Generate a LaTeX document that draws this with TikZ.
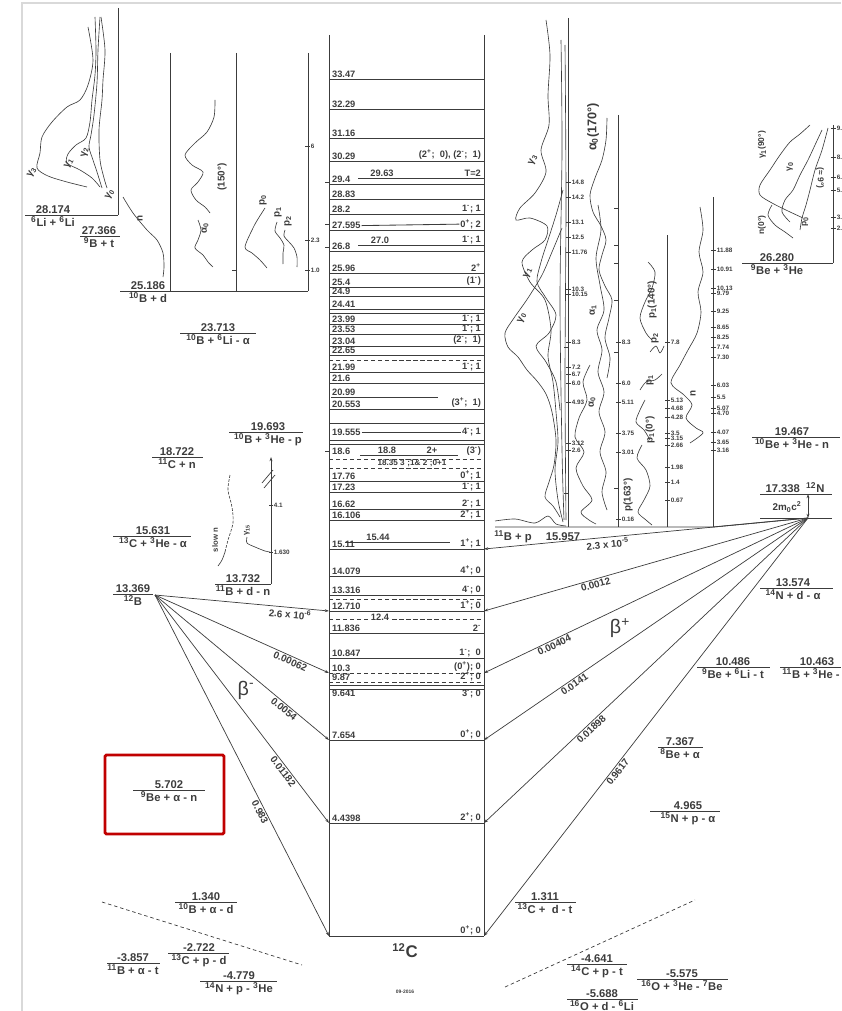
\documentclass[tikz,border=0pt]{standalone}
\usepackage{fontspec}
\setmainfont{Liberation Sans}
\usetikzlibrary{arrows.meta, positioning, calc}
\definecolor{inkgray}{HTML}{3C3C3C}
\definecolor{framegray}{HTML}{D9D9D9}
\definecolor{boxred}{HTML}{C00000}
\newcommand{\iso}[2]{\textsuperscript{#1}#2}

\begin{document}
\begin{tikzpicture}[x=0.025cm, y=-0.025cm,
  lvl/.style={line width=0.6pt, draw=inkgray},
  dlvl/.style={lvl, dash pattern=on 3pt off 2pt},
  lvtxt/.style={font=\fontsize{6.6}{7}\selectfont\bfseries, text=inkgray, inner sep=0.6pt},
  en/.style={font=\fontsize{8}{9}\selectfont\bfseries, text=inkgray, inner sep=0.8pt},
  frm/.style={line width=0.5pt, draw=inkgray},
  spec/.style={line width=0.45pt, draw=inkgray},
  tk/.style={font=\fontsize{4.5}{5}\selectfont\bfseries, text=inkgray, inner sep=0.4pt, anchor=west},
  sg/.style={font=\fontsize{7}{8}\selectfont\bfseries, text=inkgray, rotate=90, inner sep=0.5pt},
  br/.style={line width=0.5pt, draw=inkgray, -{Stealth[length=3pt, width=2pt]}},
  brl/.style={font=\fontsize{7}{8}\selectfont\bfseries, text=inkgray, sloped, below, inner sep=1pt},
  bsym/.style={font=\fontsize{14}{16}\selectfont, text=inkgray},
]
\useasboundingbox (0,0) rectangle (841,1011);
\draw[framegray, line width=1.5pt] (22,1011) -- (22,3) -- (841,3);

% 12C level column
\draw[lvl] (329,35) -- (329,936);
\draw[lvl] (484,35) -- (484,936);
\foreach \y/\a/\b [count=\k] in {
  79/33.47/{}, 109/32.29/{}, 138/31.16/{},
  161/30.29/{(2\textsuperscript{+};~~0), (2\textsuperscript{-};~~1)},
  184/29.4/{}, 199/28.83/{}, 214/28.2/{1\textsuperscript{-};~1},
  273/25.96/{2\textsuperscript{+}}, 287/25.4/{(1\textsuperscript{-})},
  296/24.9/{}, 309/24.41/{}, 324/23.99/{1\textsuperscript{-};~1},
  334/23.53/{1\textsuperscript{-};~1}, 346/23.04/{(2\textsuperscript{-};~~1)},
  355/22.65/{}, 372/21.99/{1\textsuperscript{-};~1}, 383/21.6/{},
  409/20.553/{(3\textsuperscript{+};~~1)},
  481/17.76/{0\textsuperscript{+};~1}, 492/17.23/{1\textsuperscript{-};~1},
  509/16.62/{2\textsuperscript{-};~1}, 520/16.106/{2\textsuperscript{+};~1},
  549/15.11/{1\textsuperscript{+};~1}, 576/14.079/{4\textsuperscript{+};~0},
  595/13.316/{4\textsuperscript{-};~0}, 611/12.710/{1\textsuperscript{+};~0},
  633/11.836/{2\textsuperscript{-}}, 658/10.847/{1\textsuperscript{-};~~0},
  740/7.654/{0\textsuperscript{+};~0}, 823/4.4398/{2\textsuperscript{+};~0},
  936/{}/{0\textsuperscript{+};~0}} {
  \draw[lvl] (329,\y) -- (484,\y);
  \node[lvtxt, above right] (la\k) at (331,\y) {\a};
  \node[lvtxt, above left] (lb\k) at (482,\y) {\b};
}
\foreach \y in {313, 423, 440, 444, 685}
  \draw[lvl] (329,\y) -- (484,\y);
\foreach \y in {360, 459, 468, 599}
  \draw[dlvl] (329,\y) -- (484,\y);

% split and crossed levels
\draw[lvl] (358,178) -- (484,178);
\node[lvtxt, above] (l2963) at (382,178) {29.63};
\node[lvtxt, above left] (j2963) at (482,178) {T=2};
\draw[lvl] (329,230) -- (484,230);
\node[lvtxt, above right] (l27595) at (331,230) {27.595};
\node[lvtxt, above left] (j27595) at (482,230) {0\textsuperscript{+};~2};
\draw[lvl] (l27595.east) -- (j27595.west);
\draw[lvl] (329,251) -- (484,251);
\node[lvtxt, above right] (l268) at (331,251) {26.8};
\draw[lvl] (358,245) -- (484,245);
\node[lvtxt, above] (l270) at (380,245) {27.0};
\node[lvtxt, above left] (j270) at (482,245) {1\textsuperscript{-};~1};
\draw[lvl] (331,397) -- (438,397);
\node[lvtxt, above right] (l2099) at (331,397) {20.99};
\node[lvtxt, anchor=west] (l19555) at (331,432) {19.555};
\node[lvtxt, anchor=east] (j19555) at (482,432) {4\textsuperscript{-};~1};
\draw[lvl] (l19555) -- (j19555);
\node[lvtxt, anchor=west] (l186) at (331,451) {18.6};
\draw[lvl] (360,455) -- (458,455);
\node[lvtxt, above] (l188) at (387,455) {18.8};
\node[lvtxt, above] (j188) at (432,455) {2+};
\node[lvtxt, anchor=east] (j186) at (482,451) {(3\textsuperscript{-})};
\node[lvtxt, font=\fontsize{5.8}{6}\selectfont\bfseries] (l1835) at (412,463)
  {18.35 3\textsuperscript{-};1\& 2\textsuperscript{-};0+1};
\draw[lvl] (345,542) -- (450,542);
\node[lvtxt, above] (l1544) at (378,542) {15.44};
\draw[dlvl] (329,619) -- (484,619);
\node[lvtxt, fill=white] (l124) at (380,617) {12.4};
\draw[dlvl] (329,673) -- (484,673);
\node[lvtxt, above right] (l103) at (331,673) {10.3};
\node[lvtxt, above left] (j103) at (482,673) {(0\textsuperscript{+}); 0};
\draw[dlvl] (329,682) -- (484,682);
\node[lvtxt, above right] (l987) at (331,682) {9.87};
\node[lvtxt, above left] (j987) at (482,682) {2\textsuperscript{+};~0};
\draw[lvl] (329,689) -- (484,689);
\node[lvtxt, below right] (l9641) at (331,689) {9.641};
\node[lvtxt, below left] (j9641) at (482,689) {3\textsuperscript{-};~0};
\foreach \y in {182, 224, 247, 451}
  \draw[lvl] (325,\y) -- (329,\y);
\node[font=\fontsize{12}{14}\selectfont\bfseries, text=inkgray] (c12) at (405,951) {\iso{12}{C}};
\node[font=\fontsize{3.5}{4}\selectfont\bfseries, text=inkgray] (date) at (405,992) {09-2016};

% thresholds
\foreach \xa/\xb/\y/\xt/\e/\r [count=\k] in {
  25/118/215/53/28.174/{\iso{6}{Li} + \iso{6}{Li}},
  80/120/236/99/27.366/{\iso{9}{B} + t},
  120/308/291/148/25.186/{\iso{10}{B} + d},
  180/256/333/218/23.713/{\iso{10}{B} + \iso{6}{Li} - α},
  229/303/432/268/19.693/{\iso{10}{B} + \iso{3}{He} - p},
  152/203/457/177/18.722/{\iso{11}{C} + n},
  113/191/536/153/15.631/{\iso{13}{C} + \iso{3}{He} - α},
  215/271/584/243/13.732/{\iso{11}{B} + d - n},
  113/153/594/133/13.369/{\iso{12}{B}},
  133/205/790/169/5.702/{\iso{9}{Be} + α - n},
  175/237/902/206/1.340/{\iso{10}{B} + α - d},
  107/160/963/133/-3.857/{\iso{11}{B} + α - t},
  168/229/953/199/-2.722/{\iso{13}{C} + p - d},
  200/277/981/239/-4.779/{\iso{14}{N} + p - \iso{3}{He}},
  515/576/902/545/1.311/{\iso{13}{C} +~ d - t},
  567/627/964/597/-4.641/{\iso{14}{C} + p - t},
  637/728/979/682/-5.575/{\iso{16}{O} + \iso{3}{He} - \iso{7}{Be}},
  567/638/999/602/-5.688/{\iso{16}{O} + d - \iso{6}{Li}},
  760/833/588/793/13.574/{\iso{14}{N} + d - α},
  697/770/667/733/10.486/{\iso{9}{Be} + \iso{6}{Li} - t},
  658/703/747/680/7.367/{\iso{8}{Be} + α},
  650/720/811/688/4.965/{\iso{15}{N} + p - α},
  742/833/263/777/26.280/{\iso{9}{Be} + \iso{3}{He}},
  752/840/437/792/19.467/{\iso{10}{Be} + \iso{3}{He} - n}} {
  \draw[lvl] (\xa,\y) -- (\xb,\y);
  \node[en, above] (e\k) at (\xt,\y) {\e};
  \node[en, below] (r\k) at (\xt,\y) {\r};
}
\draw[lvl] (780,667) -- (841,667);
\node[en, above] (e10463) at (817,667) {10.463};
\node[en, below right] (r10463) at (781,667) {\iso{11}{B} + \iso{3}{He} -};
\draw[dash pattern=on 2.5pt off 2pt, line width=0.5pt, draw=inkgray] (102,902) -- (302,965);
\draw[dash pattern=on 2.5pt off 2pt, line width=0.5pt, draw=inkgray] (505,987) -- (695,900);
\draw[boxred, line width=2pt, rounded corners=1pt] (105,755) rectangle (224,834);

% 12N and beta branches
\coordinate (N12) at (808,518);
\coordinate (B12) at (155,595);
\draw[lvl] (760,494) -- (832,494);
\draw[lvl] (760,518) -- (832,518);
\node[en, above] (e12N) at (795,494) {17.338~~\iso{12}{N}};
\node[en, font=\fontsize{7}{8}\selectfont\bfseries] (pair) at (787,507) {2m\textsubscript{0}c\textsuperscript{2}};
\draw[lvl, {Stealth[length=3pt, width=2pt]}-{Stealth[length=3pt, width=2pt]}] (808,494) -- (N12);
\foreach \n/\y in {r15/549, r12/611, r10/673, r7/740, r4/823, r0/936}
  \coordinate (\n) at (484,\y);
\foreach \n/\y in {l12/611, l10/673, l7/740, l4/823, l0/936}
  \coordinate (\n) at (329,\y);
\draw[br] (N12) -- node[brl, pos=0.62] (bp1) {2.3 x 10\textsuperscript{-5}} (r15);
\draw[br] (N12) -- node[brl, pos=0.66] (bp2) {0.0012} (r12);
\draw[br] (N12) -- node[brl, pos=0.79] (bp3) {0.00404} (r10);
\draw[br] (N12) -- node[brl, pos=0.73] (bp4) {0.0141} (r7);
\draw[br] (N12) -- node[brl, pos=0.68] (bp5) {0.01898} (r4);
\draw[br] (N12) -- node[brl, pos=0.6] (bp6) {0.9617} (r0);
\draw[br] (B12) -- node[brl, pos=0.78] (bm1) {2.6 x 10\textsuperscript{-6}} (l12);
\draw[br] (B12) -- node[brl, pos=0.79] (bm2) {0.00062} (l10);
\draw[br] (B12) -- node[brl, pos=0.76] (bm3) {0.0054} (l7);
\draw[br] (B12) -- node[brl, pos=0.76] (bm4) {0.01182} (l4);
\draw[br] (B12) -- node[brl, pos=0.63] (bm5) {0.983} (l0);
\node[bsym] (bplus) at (620,628) {β\textsuperscript{+}};
\node[bsym] (bminus) at (246,690) {β\textsuperscript{-}};

% 6Li + 6Li spectra
\draw[frm] (118,8) -- (118,215);
\draw[spec] plot[smooth] coordinates {(88,27) (93,60) (88,85) (80,100) (67,107) (52,122) (42,137) (40,153) (37,168) (48,176) (67,182) (87,187)};
\draw[spec] plot[smooth] coordinates {(95,17) (96,50) (95,75) (92,100) (90,122) (86,138) (76,145) (68,154) (67,163) (80,170) (92,178) (100,187)};
\draw[spec] plot[smooth] coordinates {(100,17) (98,50) (97,83) (94,115) (91,135) (89,147) (93,160) (97,172) (102,188)};
\draw[spec] plot[smooth] coordinates {(101,17) (105,50) (103,80) (102,100) (99,130) (100,160) (104,178) (107,188)};
\node[sg, rotate=-30] (g3a) at (32,172) {γ\textsubscript{3}};
\node[sg, rotate=-30] (g1a) at (69,163) {γ\textsubscript{1}};
\node[sg, rotate=-10] (g2a) at (85,152) {γ\textsubscript{2}};
\node[sg, rotate=-30] (g0a) at (110,194) {γ\textsubscript{0}};

% 10B + d spectra
\foreach \x in {170, 236, 308}
  \draw[frm] (\x,53) -- (\x,291);
\foreach \y/\t [count=\k] in {146/6, 240/2.3, 270/1.0}
  \draw[frm] (305,\y) -- (310,\y) node[tk] (td\k) {\t};
\draw[frm] (232,270) -- (236,270);
\draw[spec] plot[smooth] coordinates {(123,197) (133,213) (147,230) (157,240) (163,253) (164,267) (163,277)};
\draw[spec] plot[smooth] coordinates {(215,100) (214,117) (207,132) (195,143) (185,155) (192,165) (203,172) (198,182) (191,190) (196,200) (205,207) (210,213)};
\draw[spec] plot[smooth] coordinates {(198,220) (201,230) (198,240) (195,248) (203,255) (208,262) (213,267)};
\draw[spec] plot[smooth] coordinates {(265,208) (258,219) (253,228) (245,247) (252,253) (260,260) (267,268)};
\draw[spec] plot[smooth] coordinates {(277,222) (275,231) (280,238) (284,245) (283,253) (283,264)};
\draw[spec] plot[smooth] coordinates {(285,230) (284,236) (289,242) (294,248) (297,257) (297,267)};
\node[sg] (nd) at (140,218) {n};
\node[sg] (a150) at (222,177) {(150°)};
\node[sg] (a0d) at (205,228) {α\textsubscript{0}};
\node[sg] (p0d) at (263,200) {p\textsubscript{0}};
\node[sg] (p1d) at (278,212) {p\textsubscript{1}};
\node[sg] (p2d) at (288,221) {p\textsubscript{2}};

% 11B + d - n spectrum
\draw[frm, -{Stealth[length=3pt, width=2pt]}] (271,584) -- (271,457);
\draw[frm] (262,483) -- (273,470);
\draw[frm] (264,488) -- (275,475);
\foreach \y/\t [count=\k] in {505/4.1, 552/1.630}
  \draw[frm] (269,\y) -- (273,\y) node[tk] (tn\k) {\t};
\draw[spec, dash pattern=on 2pt off 1pt] plot[smooth] coordinates {(230,475) (228,490) (232,507) (233,523) (228,540) (225,552)};
\draw[spec] plot[smooth] coordinates {(225,552) (222,560) (218,566)};
\draw[spec] plot[smooth] coordinates {(247,537) (247,543) (255,547) (265,551) (270,552)};
\node[sg, font=\fontsize{5.5}{6}\selectfont\bfseries] (slown) at (215,540) {slow n};
\node[sg, font=\fontsize{5.5}{6}\selectfont\bfseries] (g15) at (247,530) {γ\textsubscript{15}};

% 11B + p spectra
\draw[lvl] (495,527) -- (713,527) -- (N12);
\node[en] (r11Bp) at (513,537) {\iso{11}{B} + p};
\node[en] (e11Bp) at (563,537) {15.957};
\draw[frm] (568,18) -- (568,527);
\draw[frm] (618,115) -- (618,527);
\draw[frm] (667,235) -- (667,527);
\draw[frm] (713,197) -- (713,527);
\foreach \y/\t [count=\k] in {182/14.8, 197/14.2, 222/13.1, 237/12.5, 252/11.76, 289/10.3, 294/10.15,
  342/8.3, 367/7.2, 374/6.7, 383/6.0, 402/4.93, 443/3.12, 450/2.6}
  \draw[frm] (566,\y) -- (571,\y) node[tk] (ta\k) {\t};
\foreach \y/\t [count=\k] in {342/8.3, 383/6.0, 402/5.11, 433/3.75, 452/3.01, 519/0.16}
  \draw[frm] (616,\y) -- (621,\y) node[tk] (tb\k) {\t};
\foreach \y/\t [count=\k] in {342/7.8, 400/5.13, 408/4.68, 417/4.28, 433/3.5, 438/3.15, 445/2.66,
  467/1.98, 482/1.4, 500/0.67}
  \draw[frm] (665,\y) -- (670,\y) node[tk] (tc\k) {\t};
\foreach \y/\t [count=\k] in {250/11.88, 269/10.91, 288/10.13, 293/9.79, 311/9.25, 327/8.65, 337/8.25,
  347/7.74, 357/7.30, 385/6.03, 397/5.5, 408/5.07, 413/4.70, 432/4.07, 442/3.65, 450/3.16}
  \draw[frm] (711,\y) -- (716,\y) node[tk] (tdd\k) {\t};
\foreach \y in {208, 245, 263, 300, 352, 488}
  \draw[frm] (614,\y) -- (618,\y);
\foreach \y in {347, 493}
  \draw[frm] (564,\y) -- (568,\y);
% gamma curves
\draw[spec] plot[smooth] coordinates {(546,20) (550,55) (548,95) (549,125) (541,150) (546,172) (535,193) (520,208) (516,220) (530,218) (547,226) (545,240) (532,250) (522,262) (530,282) (545,300) (551,330) (548,356) (553,382) (556,412) (558,442) (555,470) (558,500) (563,522)};
\draw[spec] plot[smooth] coordinates {(563,190) (556,215) (548,240) (541,262) (537,282) (546,298) (556,315) (549,333) (536,346) (546,362) (556,382) (560,410)};
\draw[spec] plot[smooth] coordinates {(562,228) (552,252) (542,275) (528,298) (514,318) (505,333) (508,347) (518,357) (527,370) (537,381) (546,394) (552,412) (556,440) (554,465) (549,482) (545,497) (553,506) (560,517)};
\draw[spec] plot[smooth] coordinates {(561,40) (562,150) (560,300) (562,450) (564,520)};
\draw[spec] plot[smooth] coordinates {(565,45) (566,200) (565,380) (566,520)};
\draw[spec] plot[smooth] coordinates {(495,521) (515,519) (535,523) (548,516) (556,524) (566,526)};
% alpha curves
\draw[spec] plot[smooth] coordinates {(607,118) (606,140) (602,160) (595,178) (590,195) (593,212) (601,226) (606,240) (602,255) (599,270) (605,286) (612,300) (609,318) (605,338) (610,358) (607,378)};
\draw[spec] plot[smooth] coordinates {(598,205) (601,230) (596,258) (600,285) (604,310) (597,330) (602,350) (598,372) (604,392) (599,412) (605,432) (600,452) (606,472) (602,492) (607,510)};
\draw[spec] plot[smooth] coordinates {(590,365) (583,382) (587,400) (579,418) (575,437) (584,452) (576,468) (583,486) (592,500) (581,512) (589,520) (596,524)};
% proton curves
\draw[spec] plot[smooth] coordinates {(642,445) (637,458) (646,470) (650,486) (644,500) (638,512) (646,520) (652,525)};
\draw[spec] plot[smooth] coordinates {(645,400) (640,410) (636,422) (644,430) (650,440)};
\draw[spec] plot[smooth] coordinates {(640,390) (646,382) (655,380) (662,374)};
\draw[spec] plot[smooth] coordinates {(650,352) (656,346) (660,353) (664,346)};
\draw[spec] plot[smooth] coordinates {(648,262) (655,272) (652,288) (645,302) (640,318) (646,333) (652,340)};
% neutron curve
\draw[spec] plot[smooth] coordinates {(700,207) (703,230) (699,252) (703,272) (698,292) (701,312) (697,333) (688,350) (680,365) (671,383) (684,395) (692,405) (686,418) (696,428) (703,433) (690,443)};
\node[sg, rotate=-25] (g3p) at (533,160) {γ\textsubscript{3}};
\node[sg, rotate=-25] (g1p) at (528,273) {γ\textsubscript{1}};
\node[sg, rotate=-25] (g0p) at (522,318) {γ\textsubscript{0}};
\node[sg, font=\fontsize{9}{10}\selectfont\bfseries] (a170) at (593,127) {α\textsubscript{0}(170°)};
\node[sg] (a1p) at (593,310) {α\textsubscript{1}};
\node[sg] (a0p) at (592,402) {α\textsubscript{0}};
\node[sg] (p163) at (628,495) {p(163°)};
\node[sg] (p10) at (650,430) {p\textsubscript{1}(0°)};
\node[sg] (p1p) at (650,380) {p\textsubscript{1}};
\node[sg] (p2p) at (655,338) {p\textsubscript{2}};
\node[sg] (p140) at (652,300) {p\textsubscript{1}(140°)};
\node[sg] (np) at (693,393) {n};

% 9Be + 3He spectra
\draw[frm] (833,125) -- (833,263);
\foreach \y/\t [count=\k] in {128/9., 157/8., 177/6., 190/5., 217/3., 228/2.}
  \draw[frm] (831,\y) -- (836,\y) node[tk] (te\k) {\t};
\draw[spec] plot[smooth] coordinates {(810,125) (800,134) (790,142) (780,155) (770,170) (760,185) (760,195) (772,203) (788,211) (803,218)};
\draw[spec] plot[smooth] coordinates {(822,130) (815,145) (808,160) (800,175) (793,190) (785,200) (782,212) (790,222)};
\draw[spec] plot[smooth] coordinates {(828,128) (822,150) (815,170) (810,190) (806,205) (802,218) (800,230)};
\draw[spec] plot[smooth] coordinates {(772,205) (768,215) (775,225) (785,232) (793,238)};
\node[sg, font=\fontsize{6}{7}\selectfont\bfseries] (g190) at (762,145) {γ\textsubscript{1}(90°)};
\node[sg, font=\fontsize{6}{7}\selectfont\bfseries] (g0b) at (790,167) {γ\textsubscript{0}};
\node[sg, font=\fontsize{6}{7}\selectfont\bfseries, rotate=180] (a9) at (820,178) {(≈ 9°)};
\node[sg, font=\fontsize{6}{7}\selectfont\bfseries] (n0) at (762,225) {n(0°)};
\node[sg, font=\fontsize{6}{7}\selectfont\bfseries] (p0b) at (805,222) {p\textsubscript{0}};
\end{tikzpicture}
\end{document}
